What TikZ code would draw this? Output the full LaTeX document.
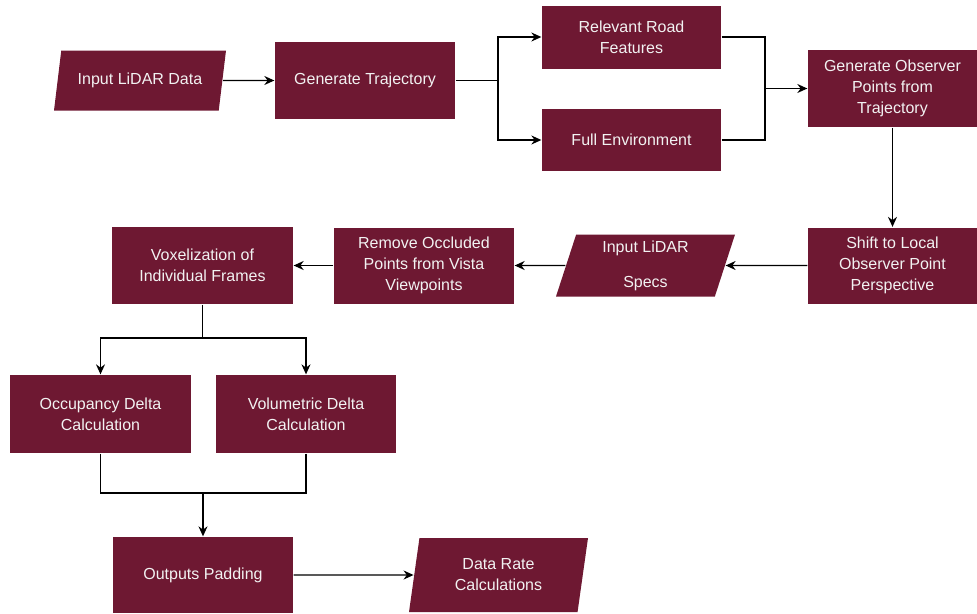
\documentclass[tikz,border=0pt]{standalone}
\usepackage{fontspec}
\setmainfont{Liberation Sans}
\usepackage{tikz}
\usetikzlibrary{positioning}
\usetikzlibrary{arrows.meta,shapes.geometric}
\definecolor{maroon}{RGB}{110,24,50}
\definecolor{textgrey}{RGB}{242,242,242}

\begin{document}
\begin{tikzpicture}[x=1pt,y=-1pt,
  line width=1.3pt, >={Stealth[length=10pt,width=9pt]},
  block/.style={rectangle,fill=maroon,text=textgrey,align=center,inner sep=0pt,
    font=\fontsize{16}{21}\selectfont},
  io/.style={trapezium,trapezium stretches body,fill=maroon,text=textgrey,align=center,
    inner sep=0pt,font=\fontsize{16}{21}\selectfont}]
\useasboundingbox (0,0) rectangle (977,613);

\draw (140,80.5) node[io,trapezium left angle=64,trapezium right angle=116,
  minimum width=172,minimum height=60] (input) {Input LiDAR Data};
\draw (365,80.5) node[block,minimum width=180,minimum height=77] (traj) {Generate Trajectory};
\draw (631.5,37) node[block,minimum width=179,minimum height=63] (road) {Relevant Road\\Features};
\draw (631.5,140) node[block,minimum width=179,minimum height=62] (env) {Full Environment};
\draw (892.5,88.5) node[block,minimum width=169,minimum height=77] (obs) {Generate Observer\\Points from\\Trajectory};

\draw (892.5,265.5) node[block,minimum width=169,minimum height=76] (shift) {Shift to Local\\Observer Point\\Perspective};
\draw (645.5,265.5) node[io,trapezium left angle=68,trapezium right angle=112,
  minimum width=179,minimum height=62] (specs) {Input LiDAR\\[14pt]Specs};
\draw (424,265.5) node[block,minimum width=180,minimum height=76] (remove) {Remove Occluded\\Points from Vista\\Viewpoints};
\draw (202.5,265.5) node[block,minimum width=181,minimum height=77] (voxel) {Voxelization of\\Individual Frames};

\draw (100.5,414) node[block,minimum width=181,minimum height=78] (occ) {Occupancy Delta\\Calculation};
\draw (306,414) node[block,minimum width=180,minimum height=78] (vol) {Volumetric Delta\\Calculation};
\draw (203,575) node[block,minimum width=180,minimum height=76] (pad) {Outputs Padding};
\draw (498.5,575) node[io,trapezium left angle=72,trapezium right angle=108,
  minimum width=179,minimum height=74] (rate) {Data Rate\\Calculations};

\coordinate (tsplit) at (498,80.5);
\coordinate (tmerge) at (765,88.5);
\coordinate (vsplit) at (202.5,338);
\coordinate (omerge) at (203,493);

\path[draw,->] (input) -- (traj);
\path[draw] (traj) -- (tsplit);
\path[draw,->] (tsplit) |- (road);
\path[draw,->] (tsplit) |- (env);
\path[draw] (road) -| (tmerge);
\path[draw] (env) -| (tmerge);
\path[draw,->] (tmerge) -- (obs);
\path[draw,->] (obs) -- (shift);
\path[draw,->] (shift) -- (specs);
\path[draw,->] (specs) -- (remove);
\path[draw,->] (remove) -- (voxel);
\path[draw] (voxel) -- (vsplit);
\path[draw,->] (vsplit) -| (occ);
\path[draw,->] (vsplit) -| (vol);
\path[draw] (occ) |- (omerge);
\path[draw] (vol) |- (omerge);
\path[draw,->] (omerge) -- (pad);
\path[draw,->] (pad) -- (rate);

\end{tikzpicture}
\end{document}
